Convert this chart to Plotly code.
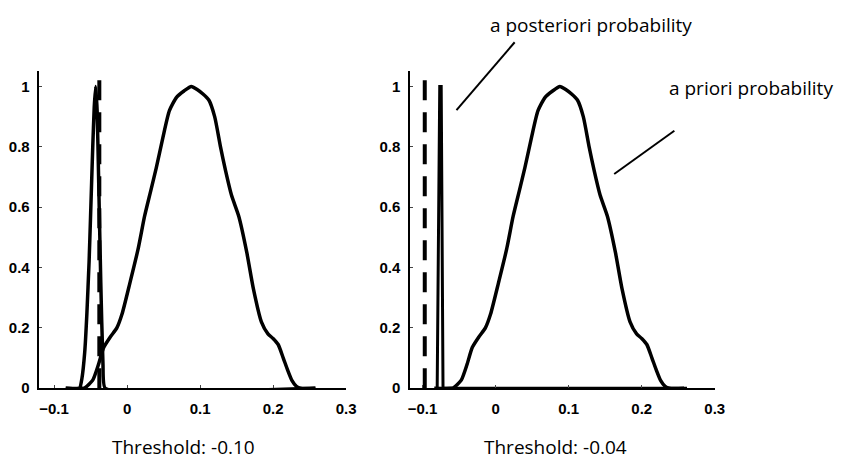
import plotly.graph_objects as go

# Shared a priori density (normalised to peak 1)
prior_x = [-0.084, -0.060, -0.057, -0.047, -0.039, -0.032, -0.023, -0.014, -0.007, 0.004,
           0.015, 0.024, 0.032, 0.040, 0.049, 0.058, 0.068, 0.078, 0.088,
           0.096, 0.104, 0.112, 0.120, 0.128, 0.135, 0.143, 0.153, 0.164, 0.173,
           0.184, 0.193, 0.200, 0.207, 0.214, 0.220, 0.226, 0.232, 0.238, 0.258]
prior_y = [0.0, 0.0, 0.003, 0.027, 0.08, 0.135, 0.17, 0.20, 0.245, 0.35,
           0.46, 0.57, 0.65, 0.73, 0.83, 0.92, 0.965, 0.985, 1.0,
           0.99, 0.975, 0.955, 0.90, 0.80, 0.72, 0.64, 0.57, 0.45, 0.33,
           0.22, 0.18, 0.165, 0.145, 0.10, 0.06, 0.025, 0.006, 0.0, 0.0]

# A posteriori density, left panel
post1_x = [-0.084, -0.065, -0.062, -0.058, -0.055, -0.052, -0.050, -0.047, -0.045, -0.043,
           -0.041, -0.039, -0.036, -0.033, -0.030, 0.258]
post1_y = [0.0, 0.0, 0.03, 0.12, 0.25, 0.42, 0.57, 0.80, 0.93, 1.0,
           0.92, 0.7, 0.35, 0.08, 0.0, 0.0]

# A posteriori density, right panel
post2_x = [-0.080, -0.0765, -0.0745, -0.072, 0.262]
post2_y = [0.0, 1.0, 1.0, 0.0, 0.0]

# Threshold markers (dashed)
thr_left_x = -0.038
thr_right_x = -0.097
thr_y = [0.0, 1.05]

x_ticks = [-0.1, 0, 0.1, 0.2, 0.3]
x_tick_text = ["\u22120.1", "0", "0.1", "0.2", "0.3"]
y_ticks = [0, 0.2, 0.4, 0.6, 0.8, 1]
y_tick_text = ["0", "0.2", "0.4", "0.6", "0.8", "1"]

captions = ["Threshold: -0.10", "Threshold: -0.04"]
label_post = "a posteriori probability"
label_prior = "a priori probability"

W, H = 849, 468
solid = dict(color="black", width=3.5)
dashed = dict(color="black", width=4, dash="20px,12px")

fig = go.Figure()

# Left panel
fig.add_trace(go.Scatter(x=prior_x, y=prior_y, mode="lines", line=dict(**solid, shape="spline", smoothing=0.6),
                         xaxis="x", yaxis="y", showlegend=False))
fig.add_trace(go.Scatter(x=post1_x, y=post1_y, mode="lines", line=dict(**solid, shape="spline", smoothing=0.4),
                         xaxis="x", yaxis="y", showlegend=False))
fig.add_trace(go.Scatter(x=[thr_left_x, thr_left_x], y=thr_y, mode="lines", line=dashed,
                         xaxis="x", yaxis="y", showlegend=False))

# Right panel
fig.add_trace(go.Scatter(x=prior_x, y=prior_y, mode="lines", line=dict(**solid, shape="spline", smoothing=0.6),
                         xaxis="x2", yaxis="y2", showlegend=False))
fig.add_trace(go.Scatter(x=post2_x, y=post2_y, mode="lines", line=dict(color="black", width=3),
                         xaxis="x2", yaxis="y2", showlegend=False))
fig.add_trace(go.Scatter(x=[thr_right_x, thr_right_x], y=thr_y, mode="lines", line=dashed,
                         xaxis="x2", yaxis="y2", showlegend=False))

tickfont = dict(family="Liberation Sans", size=15, color="black", weight="bold")
xcommon = dict(tickvals=x_ticks, ticktext=x_tick_text, ticks="inside", ticklen=3, tickwidth=1,
               showline=True, linecolor="black", linewidth=1.5, showgrid=False, zeroline=False,
               tickfont=tickfont, ticklabelstandoff=6)
ycommon = dict(tickvals=y_ticks, ticktext=y_tick_text, ticks="inside", ticklen=3, tickwidth=1,
               showline=True, linecolor="black", linewidth=1.5, showgrid=False, zeroline=False,
               range=[0, 1.052], tickfont=tickfont, ticklabelstandoff=5)

ydom = [1 - 395 / H, 1 - 72 / H]
fig.update_layout(
    width=W, height=H,
    margin=dict(l=0, r=0, t=0, b=0),
    paper_bgcolor="white", plot_bgcolor="white",
    xaxis=dict(domain=[38 / W, 349 / W], range=[-0.12, 0.3], anchor="y", **xcommon),
    yaxis=dict(domain=ydom, anchor="x", **ycommon),
    xaxis2=dict(domain=[414 / W, 723 / W], range=[-0.117, 0.3], anchor="y2", **xcommon),
    yaxis2=dict(domain=ydom, anchor="x2", **ycommon),
)

capfont = dict(family="Open Sans", size=19, color="black", weight=500)
for cx, txt in zip([184, 561], captions):
    fig.add_annotation(x=cx / W, y=1 - 455 / H, xref="paper", yref="paper", text=txt,
                       showarrow=False, font=capfont, xanchor="center", yanchor="middle")

fig.add_annotation(x=597 / W, y=1 - 25 / H, xref="paper", yref="paper", text=label_post,
                   showarrow=False, font=capfont, xanchor="center", yanchor="middle")
fig.add_annotation(x=760 / W, y=1 - 90 / H, xref="paper", yref="paper", text=label_prior,
                   showarrow=False, font=capfont, xanchor="center", yanchor="middle")

# Leader lines from labels to curves
for (x0, y0, x1, y1) in [(520, 43, 461, 112), (682, 133, 621, 177)]:
    fig.add_shape(type="line", xref="paper", yref="paper",
                  x0=x0 / W, y0=1 - y0 / H, x1=x1 / W, y1=1 - y1 / H,
                  line=dict(color="black", width=2))

fig.write_html("out.html")
